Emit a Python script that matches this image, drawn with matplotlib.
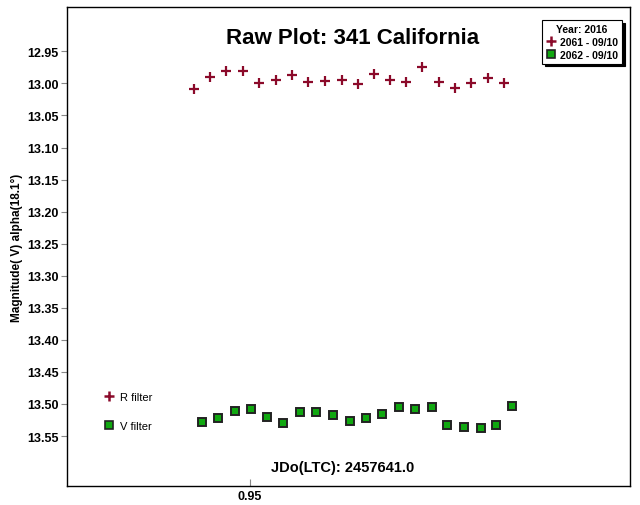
import matplotlib.pyplot as plt
import numpy as np
from matplotlib.lines import Line2D

plt.rcParams['font.family'] = ['Liberation Sans', 'DejaVu Sans']

# datos
r_jd = [0.9441, 0.9458, 0.9475, 0.9493, 0.9510, 0.9528, 0.9545, 0.9562, 0.9580, 0.9598,
        0.9615, 0.9633, 0.9650, 0.9667, 0.9684, 0.9702, 0.9719, 0.9736, 0.9754, 0.9771]
r_mag = [13.008, 12.990, 12.980, 12.980, 12.999, 12.995, 12.987, 12.998, 12.996, 12.995,
         13.001, 12.985, 12.994, 12.998, 12.974, 12.998, 13.007, 13.000, 12.992, 12.999]

v_jd = [0.9449, 0.9466, 0.9484, 0.9501, 0.9519, 0.9536, 0.9554, 0.9571, 0.9589, 0.9607,
        0.9624, 0.9641, 0.9659, 0.9676, 0.9694, 0.9710, 0.9728, 0.9746, 0.9763, 0.9780]
v_mag = [13.528, 13.522, 13.511, 13.508, 13.521, 13.529, 13.513, 13.513, 13.517, 13.527,
         13.522, 13.516, 13.505, 13.508, 13.504, 13.533, 13.536, 13.537, 13.533, 13.503]

y_ticks = [12.95, 13.00, 13.05, 13.10, 13.15, 13.20, 13.25, 13.30, 13.35, 13.40, 13.45, 13.50, 13.55]

r_color = "#8b0a2a"
v_color = "#10a810"

fig = plt.figure(figsize=(6.4, 5.06), dpi=100)
ax = fig.add_axes([0.104, 0.0375, 0.88, 0.9465])

ax.plot(r_jd, r_mag, linestyle="none", marker="+", markersize=6.5, markeredgewidth=1.6,
        color=r_color)
ax.plot(v_jd, v_mag, linestyle="none", marker="s", markersize=5.2, markeredgewidth=1.4,
        markerfacecolor=v_color, markeredgecolor="#222222")

ax.set_xlim(0.9305, 0.9905)
ax.set_ylim(13.628, 12.881)
ax.set_xticks([0.95])
ax.set_xticklabels(["0.95"])
ax.set_yticks(y_ticks)
ax.set_yticklabels(["%.2f" % t for t in y_ticks])
ax.tick_params(axis="y", direction="out", length=4, pad=1.5, color="#888888", labelsize=9)
ax.tick_params(axis="x", direction="in", length=5, pad=3, color="#888888", labelsize=9)
for lab in ax.get_xticklabels() + ax.get_yticklabels():
    lab.set_fontweight("bold")
for s in ax.spines.values():
    s.set_linewidth(1.0)

ax.set_ylabel("Magnitude( V) alpha(18.1°)", fontsize=8.5, fontweight="bold")
ax.yaxis.set_label_coords(-0.077, 0.5)

ax.text(0.508, 0.937, "Raw Plot: 341 California", transform=ax.transAxes, ha="center",
        va="center", fontsize=16, fontweight="bold")
ax.text(0.491, 0.04, "JDo(LTC): 2457641.0", transform=ax.transAxes, ha="center",
        va="center", fontsize=10.5, fontweight="bold")

# leyenda superior derecha
h_r = Line2D([], [], linestyle="none", marker="+", markersize=6.5, markeredgewidth=1.8, color=r_color)
h_v = Line2D([], [], linestyle="none", marker="s", markersize=5.5, markeredgewidth=1.2,
             markerfacecolor=v_color, markeredgecolor="#222222")
leg = ax.legend([h_r, h_v], ["2061 - 09/10", "2062 - 09/10"], title="Year: 2016",
                loc="upper right", bbox_to_anchor=(0.986, 0.973),
                title_fontproperties={"weight": "bold", "size": 7.5},
                prop={"weight": "bold", "size": 7.5}, frameon=True, fancybox=False,
                shadow={"color": "black", "alpha": 1.0}, handlelength=1.0,
                handletextpad=0.4, borderpad=0.35, labelspacing=0.3, borderaxespad=0.0)
leg.get_frame().set_edgecolor("black")
leg.get_frame().set_linewidth(0.8)
ax.add_artist(leg)

# leyenda de filtros abajo a la izquierda
h_r2 = Line2D([], [], linestyle="none", marker="+", markersize=6.5, markeredgewidth=1.8, color=r_color)
h_v2 = Line2D([], [], linestyle="none", marker="s", markersize=5.5, markeredgewidth=1.2,
              markerfacecolor=v_color, markeredgecolor="#222222")
ax.legend([h_r2, h_v2], ["R filter", "V filter"], loc="lower left",
          bbox_to_anchor=(0.048, 0.095), frameon=False, fontsize=8, handlelength=1.0,
          handletextpad=0.5, labelspacing=1.65)

fig.savefig("out.png", dpi=100)
